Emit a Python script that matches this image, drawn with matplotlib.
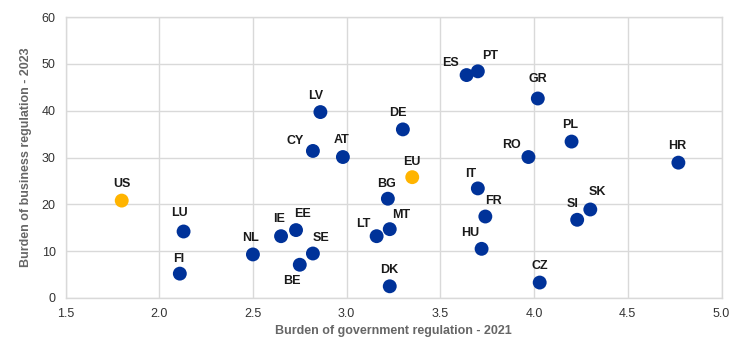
import matplotlib
matplotlib.use("Agg")
import matplotlib.pyplot as plt

# Country codes and the two regulation-burden scores
countries = ["US", "LU", "FI", "NL", "IE", "EE", "BE", "SE", "LT", "MT", "BG", "DK",
             "EU", "IT", "FR", "HU", "SI", "SK", "CZ", "LV", "CY", "AT", "DE", "ES",
             "PT", "GR", "PL", "RO", "HR"]
gov_2021 = [1.80, 2.13, 2.11, 2.50, 2.65, 2.73, 2.75, 2.82, 3.16, 3.23, 3.22, 3.23,
            3.35, 3.70, 3.74, 3.72, 4.23, 4.30, 4.03, 2.86, 2.82, 2.98, 3.30, 3.64,
            3.70, 4.02, 4.20, 3.97, 4.77]
biz_2023 = [20.8, 14.2, 5.2, 9.3, 13.2, 14.5, 7.1, 9.5, 13.2, 14.7, 21.2, 2.5,
            25.8, 23.4, 17.4, 10.5, 16.7, 18.9, 3.3, 39.7, 31.4, 30.1, 36.0, 47.6,
            48.4, 42.6, 33.4, 30.1, 28.9]
highlight = {"US", "EU"}

# Label offsets from each marker, in pixels
label_offsets = {
    "US": (0, 17), "LU": (-4, 18), "FI": (-1, 15), "NL": (-2, 16), "IE": (-2, 17),
    "EE": (6, 16), "BE": (-8, -16), "SE": (8, 16), "LT": (-13, 12), "MT": (11, 14),
    "BG": (-1, 15), "DK": (-1, 16), "EU": (0, 15), "IT": (-7, 14), "FR": (8, 16),
    "HU": (-11, 16), "SI": (-5, 16), "SK": (7, 17), "CZ": (0, 17), "LV": (-5, 16),
    "CY": (-18, 10), "AT": (-1, 17), "DE": (-5, 16), "ES": (-16, 12), "PT": (12, 15),
    "GR": (0, 19), "PL": (-1, 17), "RO": (-17, 12), "HR": (-1, 17),
}

BLUE = "#003299"
YELLOW = "#FFB400"
GRID = "#d9d9d9"

plt.rcParams["font.family"] = ["Liberation Sans", "DejaVu Sans"]

fig = plt.figure(figsize=(7.44, 3.40), dpi=100)
ax = fig.add_axes([65.5 / 744, 1 - 298 / 340, 656 / 744, 281 / 340])

colors = [YELLOW if c in highlight else BLUE for c in countries]
ax.scatter(gov_2021, biz_2023, s=100, c=colors, edgecolors="none", zorder=3)

for c, x, y in zip(countries, gov_2021, biz_2023):
    dx, dy = label_offsets[c]
    ax.annotate(c, (x, y), xytext=(dx, dy), textcoords="offset pixels",
                ha="center", va="center", fontsize=9, fontweight="bold",
                color="#1a1a1a", zorder=4)

ax.set_xlim(1.5, 5.0)
ax.set_ylim(0, 60)
ax.set_xticks([1.5, 2.0, 2.5, 3.0, 3.5, 4.0, 4.5, 5.0])
ax.set_xticklabels([f"{v:.1f}" for v in [1.5, 2.0, 2.5, 3.0, 3.5, 4.0, 4.5, 5.0]])
ax.set_yticks(range(0, 61, 10))
ax.grid(True, color=GRID, linewidth=1, zorder=0)
ax.set_axisbelow(True)
for sp in ax.spines.values():
    sp.set_color(GRID)
    sp.set_linewidth(1)
ax.tick_params(length=0, labelsize=9, colors="#333333", pad=7)

ax.set_xlabel("Burden of government regulation - 2021", fontsize=9,
              fontweight="bold", color="#666666", labelpad=4)
ax.set_ylabel("Burden of business regulation - 2023", fontsize=9,
              fontweight="bold", color="#666666", labelpad=7)

fig.savefig("out.png", dpi=100)
